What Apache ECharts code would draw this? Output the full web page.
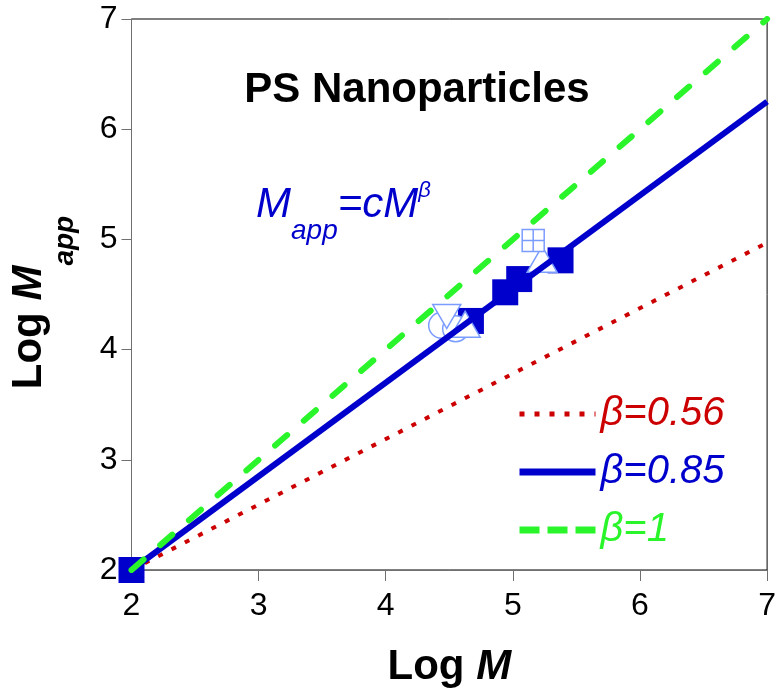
<!DOCTYPE html>
<html>
<head>
<meta charset="utf-8">
<script src="https://cdn.jsdelivr.net/npm/echarts@6/dist/echarts.min.js"></script>
<style>
  html, body { margin: 0; padding: 0; background: #fff; }
  #main { width: 779px; height: 693px; }
</style>
</head>
<body>
<div id="main"></div>
<script>
var font = 'Liberation Sans, Arial, sans-serif';

// fitted lines, Log M vs Log Mapp
var fitLogM = [2, 7];
var fit056 = [2, 4.97];
var fit085 = [2, 6.25];
var fit100 = [2, 7];

// measured points
var filledX = [2, 4.67, 4.94, 5.05, 5.375];
var filledY = [2, 4.26, 4.52, 4.64, 4.81];
var circleX = [4.44, 4.55];
var circleY = [4.22, 4.19];
var downTriX = [4.48];
var downTriY = [4.30];
var upTriX = [4.625, 5.23];
var upTriY = [4.23, 4.82];
var gridSqX = [5.16];
var gridSqY = [4.99];

var axisTicks = [2, 3, 4, 5, 6, 7];

function pairs(xs, ys) {
    var out = [];
    for (var i = 0; i < xs.length; i++) {
        out.push([xs[i], ys[i]]);
    }
    return out;
}

var red = '#cc0000';
var blue = '#0000cc';
var green = '#2af52a';
var light = '#7b9cff';

var chart = echarts.init(document.getElementById('main'));

var option = {
    animation: false,
    grid: {
        left: 131,
        right: 8,
        top: 19,
        bottom: 121,
        show: true,
        borderColor: '#000',
        borderWidth: 1
    },
    xAxis: {
        type: 'value',
        min: axisTicks[0],
        max: axisTicks[axisTicks.length - 1],
        interval: 1,
        splitLine: {show: false},
        axisLine: {lineStyle: {color: '#707070', width: 1}},
        axisTick: {length: 11, lineStyle: {color: '#707070'}},
        axisLabel: {
            margin: 20,
            fontSize: 32,
            color: '#000',
            fontFamily: font
        },
        name: '{a|Log }{b|M}',
        nameLocation: 'middle',
        nameGap: 76,
        nameTextStyle: {
            rich: {
                a: {fontSize: 42, fontWeight: 'bold', color: '#000', fontFamily: font},
                b: {fontSize: 42, fontWeight: 'bold', fontStyle: 'italic', color: '#000', fontFamily: font}
            }
        }
    },
    yAxis: {
        type: 'value',
        min: axisTicks[0],
        max: axisTicks[axisTicks.length - 1],
        interval: 1,
        splitLine: {show: false},
        axisLine: {lineStyle: {color: '#707070', width: 1}},
        axisTick: {length: 10, lineStyle: {color: '#707070'}},
        axisLabel: {
            margin: 14,
            fontSize: 32,
            color: '#000',
            fontFamily: font
        },
        name: '{a|Log }{b|M}{s|app}',
        nameLocation: 'middle',
        nameGap: 52,
        nameTextStyle: {
            padding: [0, 16, 0, 0],
            rich: {
                a: {fontSize: 42, fontWeight: 'bold', color: '#000', fontFamily: font},
                b: {fontSize: 42, fontWeight: 'bold', fontStyle: 'italic', color: '#000', fontFamily: font},
                s: {fontSize: 28, fontWeight: 'bold', fontStyle: 'italic', color: '#000', fontFamily: font, padding: [73, 0, 0, 0]}
            }
        }
    },
    legend: {
        orient: 'vertical',
        left: 516,
        top: 394,
        padding: 0,
        itemWidth: 76,
        itemHeight: 20,
        itemGap: 18,
        itemStyle: {opacity: 0},
        textStyle: {fontSize: 40, fontStyle: 'italic', fontFamily: font, lineHeight: 40},
        data: [
            {name: 'β=0.56', textStyle: {color: red}, lineStyle: {color: red, width: 5, type: [5, 10], cap: 'butt'}},
            {name: 'β=0.85', textStyle: {color: blue}, lineStyle: {color: blue, width: 7, type: 'solid', cap: 'butt'}},
            {name: 'β=1', textStyle: {color: green}, lineStyle: {color: green, width: 7, type: [20, 8], cap: 'butt'}}
        ]
    },
    graphic: [
        {
            type: 'text',
            x: 417,
            y: 90,
            style: {
                text: 'PS Nanoparticles',
                fontSize: 42,
                fontWeight: 'bold',
                fontFamily: font,
                fill: '#000',
                align: 'center',
                verticalAlign: 'middle'
            }
        },
        {
            type: 'text',
            x: 256,
            y: 205,
            style: {
                text: '{m|M}{s|app}{m|=cM}{p|β}',
                verticalAlign: 'middle',
                rich: {
                    m: {fontSize: 42, fontStyle: 'italic', fontFamily: font, fill: blue},
                    s: {fontSize: 28, fontStyle: 'italic', fontFamily: font, fill: blue, padding: [53, 0, 0, 0]},
                    p: {fontSize: 22, fontStyle: 'italic', fontFamily: font, fill: blue, padding: [0, 0, 28, 0]}
                }
            }
        }
    ],
    series: [
        {
            name: 'β=0.56',
            type: 'line',
            symbol: 'none',
            data: pairs(fitLogM, fit056),
            lineStyle: {color: red, width: 4, type: [5, 10]},
            itemStyle: {color: red}
        },
        {
            name: 'β=0.85',
            type: 'line',
            symbol: 'none',
            data: pairs(fitLogM, fit085),
            lineStyle: {color: blue, width: 6},
            itemStyle: {color: blue}
        },
        {
            name: 'β=1',
            type: 'line',
            symbol: 'none',
            data: pairs(fitLogM, fit100),
            lineStyle: {color: green, width: 6, type: [16, 22], cap: 'round'},
            itemStyle: {color: green}
        },
        {
            type: 'scatter',
            symbol: 'rect',
            symbolSize: 26,
            clip: false,
            data: pairs(filledX, filledY),
            itemStyle: {color: blue, opacity: 1}
        },
        {
            type: 'scatter',
            symbol: 'circle',
            symbolSize: 26,
            data: pairs(circleX, circleY),
            itemStyle: {color: '#fff', borderColor: light, borderWidth: 1.5, opacity: 1}
        },
        {
            type: 'scatter',
            symbol: 'triangle',
            symbolSize: [28, 24],
            symbolRotate: 180,
            data: pairs(downTriX, downTriY),
            itemStyle: {color: '#fff', borderColor: light, borderWidth: 1.5, opacity: 1}
        },
        {
            type: 'scatter',
            symbol: 'triangle',
            symbolSize: [30, 26],
            data: pairs(upTriX, upTriY),
            itemStyle: {color: '#fff', borderColor: light, borderWidth: 1.5, opacity: 1}
        },
        {
            type: 'scatter',
            symbol: 'path://M0 0L2 0L2 2L0 2Z M1 0L1 2 M0 1L2 1',
            symbolSize: 22,
            data: pairs(gridSqX, gridSqY),
            itemStyle: {color: '#fff', borderColor: light, borderWidth: 1.5, opacity: 1}
        }
    ]
};

chart.setOption(option);
</script>
</body>
</html>
